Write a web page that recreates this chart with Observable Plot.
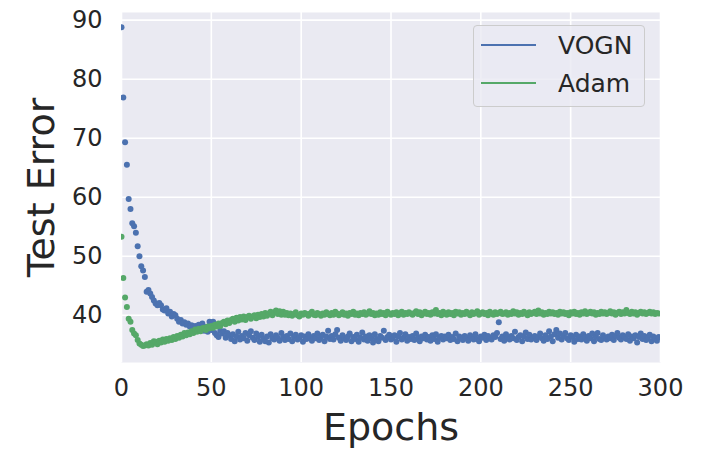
<!DOCTYPE html>
<html>
<head>
<meta charset="utf-8">
<script src="https://cdn.jsdelivr.net/npm/d3@7"></script>
<script src="https://cdn.jsdelivr.net/npm/@observablehq/plot@0.6"></script>
<style>
  html, body { margin: 0; padding: 0; background: white; }
  #wrap { position: relative; width: 704px; height: 449px; font-family: "DejaVu Sans", sans-serif; }
  #legend { position: absolute; left: 473px; top: 25px; width: 172px; height: 82px; box-sizing: border-box;
    border: 1px solid #CCCCCC; border-radius: 4px; background: rgba(234,234,242,0.8); }
  .entry { position: absolute; left: 7px; height: 30px; display: flex; align-items: center; }
  .entry span { display: inline-block; width: 55px; height: 2px; margin-right: 22px; }
  .entry b { font-weight: normal; font-size: 25px; color: #262626; }
</style>
</head>
<body>
<div id="wrap">
  <div id="chart"></div>
  <div id="legend">
    <div class="entry" style="top:4px"><span style="background:#4C72B0"></span><b>VOGN</b></div>
    <div class="entry" style="top:42px"><span style="background:#55A868"></span><b>Adam</b></div>
  </div>
</div>
<script>
const seriesNames = ["VOGN", "Adam"];
const xTicks = [0, 50, 100, 150, 200, 250, 300];
const yTicks = [40, 50, 60, 70, 80, 90];

const vogn = [
  88.8, 76.9, 69.3, 65.5, 59.7, 58.0, 55.6, 55.1, 54.0, 51.7, 50.0, 48.3,
  47.6, 46.5, 44.0, 44.3, 43.7, 43.1, 42.5, 42.0, 41.7,
  42.1, 41.7, 41.0, 40.8, 41.2, 40.3, 40.6, 39.8, 40.2, 40.0,
  39.4, 38.9, 39.2, 38.6, 38.8, 38.4, 38.6, 38.1, 38.3, 37.9,
  38.2, 37.6, 38.4, 37.8, 38.6, 37.4, 38.0, 37.2, 38.9, 37.5,
  38.9, 37.0, 36.6, 36.3, 37.4, 36.9, 37.3, 36.2, 37.0, 36.6,
  36.0, 36.8, 35.6, 36.4, 37.2, 35.9, 36.5, 36.1, 37.0, 35.7,
  36.6, 37.3, 36.2, 35.8, 36.9, 36.3, 35.5, 36.7, 36.0, 35.6,
  36.4, 35.4, 36.8, 36.1, 35.9, 36.6, 36.2, 35.7, 37.0, 36.3,
  35.8, 36.5, 36.0, 36.9, 35.6, 36.3, 36.7, 35.9, 36.2, 36.6,
  35.5, 36.4, 36.0, 36.8, 36.2, 35.7, 36.5, 36.1, 36.9, 35.8,
  36.3, 36.7, 35.6, 36.4, 37.4, 36.0, 36.5, 35.9, 36.8, 37.5,
  36.2, 35.7, 36.6, 36.1, 35.8, 36.4, 36.9, 35.6, 36.3, 36.0,
  36.7, 35.5, 36.2, 37.1, 35.9, 36.4, 35.7, 36.6, 36.1, 35.4,
  36.8, 36.0, 35.6, 36.5, 36.2, 37.4, 35.8, 36.3, 36.7, 35.9,
  36.1, 36.6, 35.5, 36.4, 37.0, 35.9, 36.2, 36.8, 35.7, 36.3,
  36.0, 36.5, 35.8, 36.9, 36.2, 35.6, 36.4, 36.1, 36.7, 35.9,
  36.3, 35.7, 36.6, 36.0, 36.8, 35.5, 36.2, 36.5, 35.9, 36.4,
  36.1, 36.7, 35.8, 36.3, 36.0, 36.9, 35.6, 36.4, 36.2, 35.8,
  36.5, 36.1, 35.7, 36.6, 36.3, 35.9, 36.8, 36.0, 35.6, 36.4,
  36.2, 36.7, 35.8, 36.5, 36.1, 35.9, 36.6, 36.3, 37.0, 38.8,
  36.0, 36.4, 35.7, 36.8, 36.2, 35.9, 36.5, 36.1, 37.2, 35.8,
  36.3, 36.6, 35.6, 36.4, 37.1, 36.0, 36.7, 35.9, 36.2, 36.5,
  35.8, 36.3, 36.9, 36.1, 35.7, 36.6, 36.0, 37.3, 36.4, 35.6,
  36.8, 37.5, 36.2, 36.9, 35.9, 36.5, 37.0, 36.1, 35.8, 36.6,
  36.3, 35.5, 36.7, 36.0, 36.4, 35.9, 36.8, 36.2, 35.7, 36.5,
  36.1, 36.9, 35.6, 36.3, 37.0, 36.0, 35.8, 36.6, 36.2, 35.9,
  36.4, 36.1, 36.7, 35.8, 36.5, 37.0, 36.2, 35.9, 36.6, 36.3,
  36.0, 36.8, 35.7, 36.4, 36.1, 36.6, 35.4, 36.3, 36.9, 36.0,
  36.5, 35.8, 36.2, 36.7, 35.6, 36.4, 36.1, 35.7, 36.3
];

const adam = [
  53.3, 46.3, 43.0, 41.4, 39.4, 38.9, 37.5, 36.9, 36.6, 35.8, 35.2, 35.0, 34.8, 34.9, 35.1, 34.9,
  35.3, 35.0, 35.6, 35.5, 35.1, 35.7, 35.4, 35.9, 35.5, 36.0, 35.7, 36.1, 35.8, 36.3, 36.0,
  36.5, 36.2, 36.7, 36.4, 37.0, 36.6, 37.1, 36.8, 37.3, 37.0, 37.6, 37.2, 37.7, 37.3, 37.8,
  37.9, 37.5, 38.1, 37.8, 38.2, 37.9, 38.4, 38.1, 38.6, 38.2, 38.7, 38.9, 38.5, 39.1, 38.7,
  39.2, 39.4, 38.9, 39.6, 39.1, 39.7, 39.3, 39.8, 39.2, 39.7, 39.9, 39.4, 39.8, 40.0, 39.5,
  40.1, 39.7, 40.2, 39.8, 40.4, 39.9, 40.3, 40.6, 40.0, 40.5, 40.8, 40.2, 40.7, 40.1, 40.6,
  40.1, 40.4, 40.0, 40.3, 39.9, 40.2, 40.5, 40.0, 39.8, 40.3,
  40.1, 40.4, 40.2, 39.9, 40.3, 40.6, 40.1, 40.0, 40.4, 40.2,
  39.9, 40.3, 40.1, 40.5, 40.2, 40.0, 40.4, 40.1, 40.6, 40.3,
  40.0, 40.2, 40.5, 40.1, 40.3, 39.9, 40.4, 40.2, 40.6, 40.1,
  40.3, 40.0, 40.4, 40.2, 40.5, 40.1, 40.3, 40.7, 40.2, 40.4,
  40.0, 40.3, 40.1, 40.5, 40.2, 40.4, 40.0, 40.6, 40.3, 40.1,
  40.4, 40.2, 40.5, 40.0, 40.3, 40.6, 40.1, 40.4, 40.2, 40.5,
  40.3, 40.1, 40.4, 40.7, 40.2, 40.5, 40.0, 40.3, 40.6, 40.2,
  40.4, 40.1, 40.5, 40.3, 40.9, 40.2, 40.4, 40.0, 40.6, 40.3,
  40.1, 40.5, 40.2, 40.4, 40.0, 40.6, 40.3, 40.5, 40.1, 40.4,
  40.2, 40.6, 40.3, 40.0, 40.5, 40.2, 40.4, 40.7, 40.1, 40.3,
  40.5, 40.2, 40.4, 40.0, 40.6, 40.3, 40.1, 40.5, 40.2, 40.4,
  40.6, 40.2, 40.3, 40.5, 40.1, 40.4, 40.2, 40.7, 40.3, 40.5,
  40.1, 40.4, 40.2, 40.6, 40.3, 40.0, 40.5, 40.2, 40.4, 40.6,
  40.2, 40.8, 40.3, 40.5, 40.1, 40.4, 40.2, 40.6, 40.3, 40.5,
  40.2, 40.4, 40.1, 40.6, 40.3, 40.5, 40.2, 40.4, 40.0, 40.5,
  40.3, 40.6, 40.2, 40.4, 40.1, 40.5, 40.3, 40.7, 40.2, 40.4,
  40.6, 40.3, 40.5, 40.1, 40.4, 40.2, 40.6, 40.3, 40.5, 40.2,
  40.4, 40.7, 40.3, 40.5, 40.1, 40.4, 40.6, 40.2, 40.5, 40.3,
  40.9, 40.4, 40.2, 40.6, 40.3, 40.5, 40.1, 40.4, 40.6, 40.3,
  40.5, 40.2, 40.4, 40.6, 40.3, 40.5, 40.2, 40.4, 40.3
];

const vognData = vogn.map((v, i) => ({epoch: i, value: v, series: seriesNames[0]}));
const adamData = adam.map((v, i) => ({epoch: i, value: v, series: seriesNames[1]}));

const chart = Plot.plot({
  width: 704,
  height: 449,
  marginLeft: 121,
  marginRight: 44,
  marginTop: 12,
  marginBottom: 87,
  x: {domain: [0, 300]},
  y: {domain: [32, 91.3]},
  style: {fontFamily: "DejaVu Sans", background: "white", color: "#262626"},
  marks: [
    Plot.frame({fill: "#EAEAF2", stroke: null}),
    Plot.gridX({ticks: xTicks, stroke: "white", strokeOpacity: 1, strokeWidth: 1.6}),
    Plot.gridY({ticks: yTicks, stroke: "white", strokeOpacity: 1, strokeWidth: 1.6}),
    Plot.axisX({ticks: xTicks, tickSize: 0, tickPadding: 16, fontSize: 24, label: null}),
    Plot.axisY({ticks: yTicks, tickSize: 0, tickPadding: 19, fontSize: 24, label: null}),
    Plot.dot(vognData, {x: "epoch", y: "value", r: 3, fill: "#4C72B0", stroke: null, clip: "frame"}),
    Plot.dot(adamData, {x: "epoch", y: "value", r: 3, fill: "#55A868", stroke: null, clip: "frame"}),
    Plot.text(["Epochs"], {frameAnchor: "bottom", lineAnchor: "middle", textAnchor: "middle", dy: 65, fontSize: 38, fill: "#262626"}),
    Plot.text(["Test Error"], {frameAnchor: "left", lineAnchor: "middle", textAnchor: "middle", dx: -80, rotate: -90, fontSize: 38, fill: "#262626"})
  ]
});
document.getElementById("chart").appendChild(chart);
</script>
</body>
</html>
